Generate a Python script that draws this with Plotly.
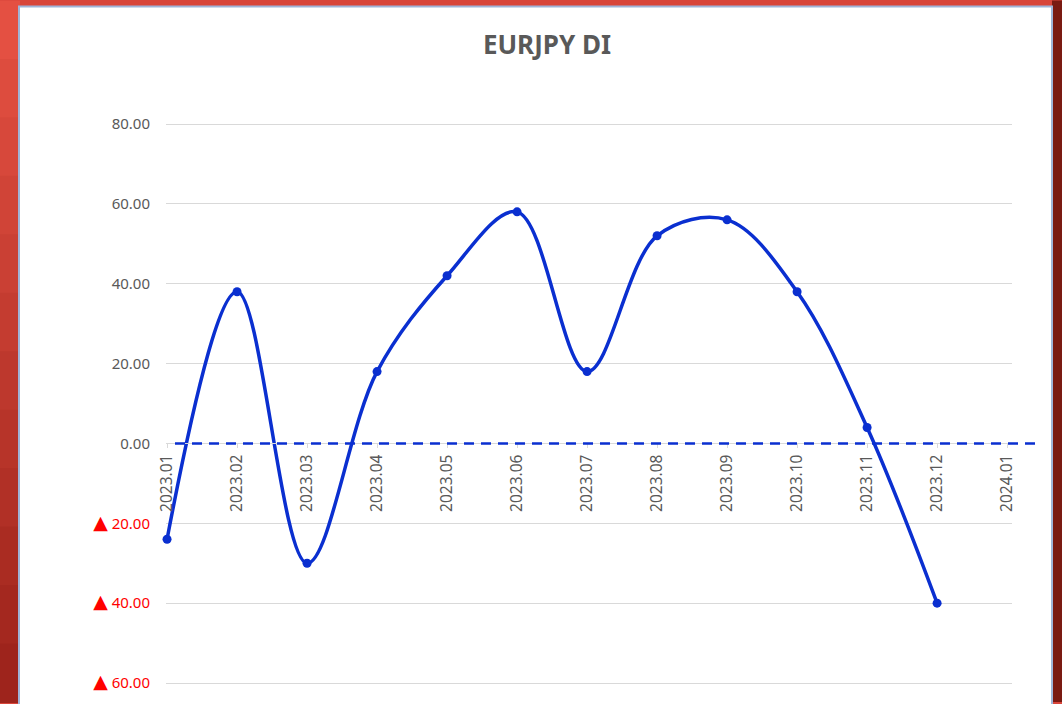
import plotly.graph_objects as go

# ---- data ----
categories = ["2023.01", "2023.02", "2023.03", "2023.04", "2023.05", "2023.06",
              "2023.07", "2023.08", "2023.09", "2023.10", "2023.11", "2023.12", "2024.01"]
months = categories[:12]
di_values = [-24, 38, -30, 18, 42, 58, 18, 52, 56, 38, 4, -40]
y_ticks = [-60, -40, -20, 0, 20, 40, 60, 80]
zero_level = 0


def fmt_tick(v):
    if v < 0:
        return (f"<span style='color:#ff0000'>"
                f"<span style='font-size:19px;font-family:DejaVu Sans'>▲</span>"
                f" {abs(v):.2f}</span>")
    return f"{v:.2f}"


y_ticktext = [fmt_tick(v) for v in y_ticks]

W, H = 1062, 704
L, R, T, B = 166, 50, 122, 17
PW, PH = W - L - R, H - T - B


def px_x(px):
    return (px - L) / PW


def px_y(py):
    return (H - B - py) / PH


fig = go.Figure()
fig.add_trace(go.Scatter(
    x=months, y=di_values, mode="lines+markers",
    line=dict(color="#0a2fd0", width=3.5, shape="spline", smoothing=1),
    marker=dict(color="#0a2fd0", size=9),
    showlegend=False, cliponaxis=False,
))

shapes = []
# left red gradient strip
n = 12
for i in range(n):
    t = i / (n - 1)
    r = int(228 + (158 - 228) * t)
    g = int(80 + (36 - 80) * t)
    b = int(66 + (28 - 66) * t)
    shapes.append(dict(type="rect", xref="paper", yref="paper",
                       x0=px_x(0), x1=px_x(20), y0=px_y(i * H / n), y1=px_y((i + 1) * H / n + 1),
                       fillcolor=f"rgb({r},{g},{b})", line=dict(width=0), layer="below"))
# right dark strip
shapes.append(dict(type="rect", xref="paper", yref="paper",
                   x0=px_x(1052), x1=px_x(1062), y0=px_y(H), y1=px_y(0),
                   fillcolor="#7a1a12", line=dict(width=0), layer="below"))
# white chart panel
shapes.append(dict(type="rect", xref="paper", yref="paper",
                   x0=px_x(19), x1=px_x(1052), y0=px_y(H + 5), y1=px_y(6),
                   fillcolor="white", line=dict(color="#9fb4d8", width=2), layer="below"))
# dashed zero line
shapes.append(dict(type="line", xref="paper", yref="y",
                   x0=px_x(175), x1=px_x(1042), y0=zero_level, y1=zero_level,
                   line=dict(color="#0a2fd0", width=2.5, dash="10px,7px"), layer="above"))

fig.update_layout(
    width=W, height=H,
    margin=dict(l=L, r=R, t=T, b=B, pad=0),
    paper_bgcolor="#d8453a",
    plot_bgcolor="rgba(0,0,0,0)",
    font=dict(family="Noto Sans", size=15, color="#595959"),
    title=dict(text="<b>EURJPY DI</b>", x=547 / W, xref="container", xanchor="center",
               y=1 - 45 / H, yref="container", yanchor="middle",
               font=dict(family="Noto Sans", size=26, color="#595959")),
    shapes=shapes,
    xaxis=dict(type="category", categoryorder="array", categoryarray=categories,
               tickvals=categories, ticktext=categories,
               range=[-0.015, 12.07], anchor="free", position=px_y(444.5),
               showgrid=False, zeroline=False, showline=True, linecolor="#d9d9d9",
               ticks="outside", ticklen=4, tickcolor="#d9d9d9",
               tickangle=-90, tickfont=dict(size=15.5, color="#595959")),
    yaxis=dict(range=[-60.5, 80.5], tickvals=y_ticks, ticktext=y_ticktext,
               showgrid=True, gridcolor="#d9d9d9", gridwidth=1, zeroline=False,
               showline=False, ticks="", ticklabelstandoff=15,
               tickfont=dict(size=15, color="#595959")),
)

fig.write_html("out.html", config={"displayModeBar": False},
               post_script="document.body.style.margin='0';document.body.style.overflow='hidden';")
